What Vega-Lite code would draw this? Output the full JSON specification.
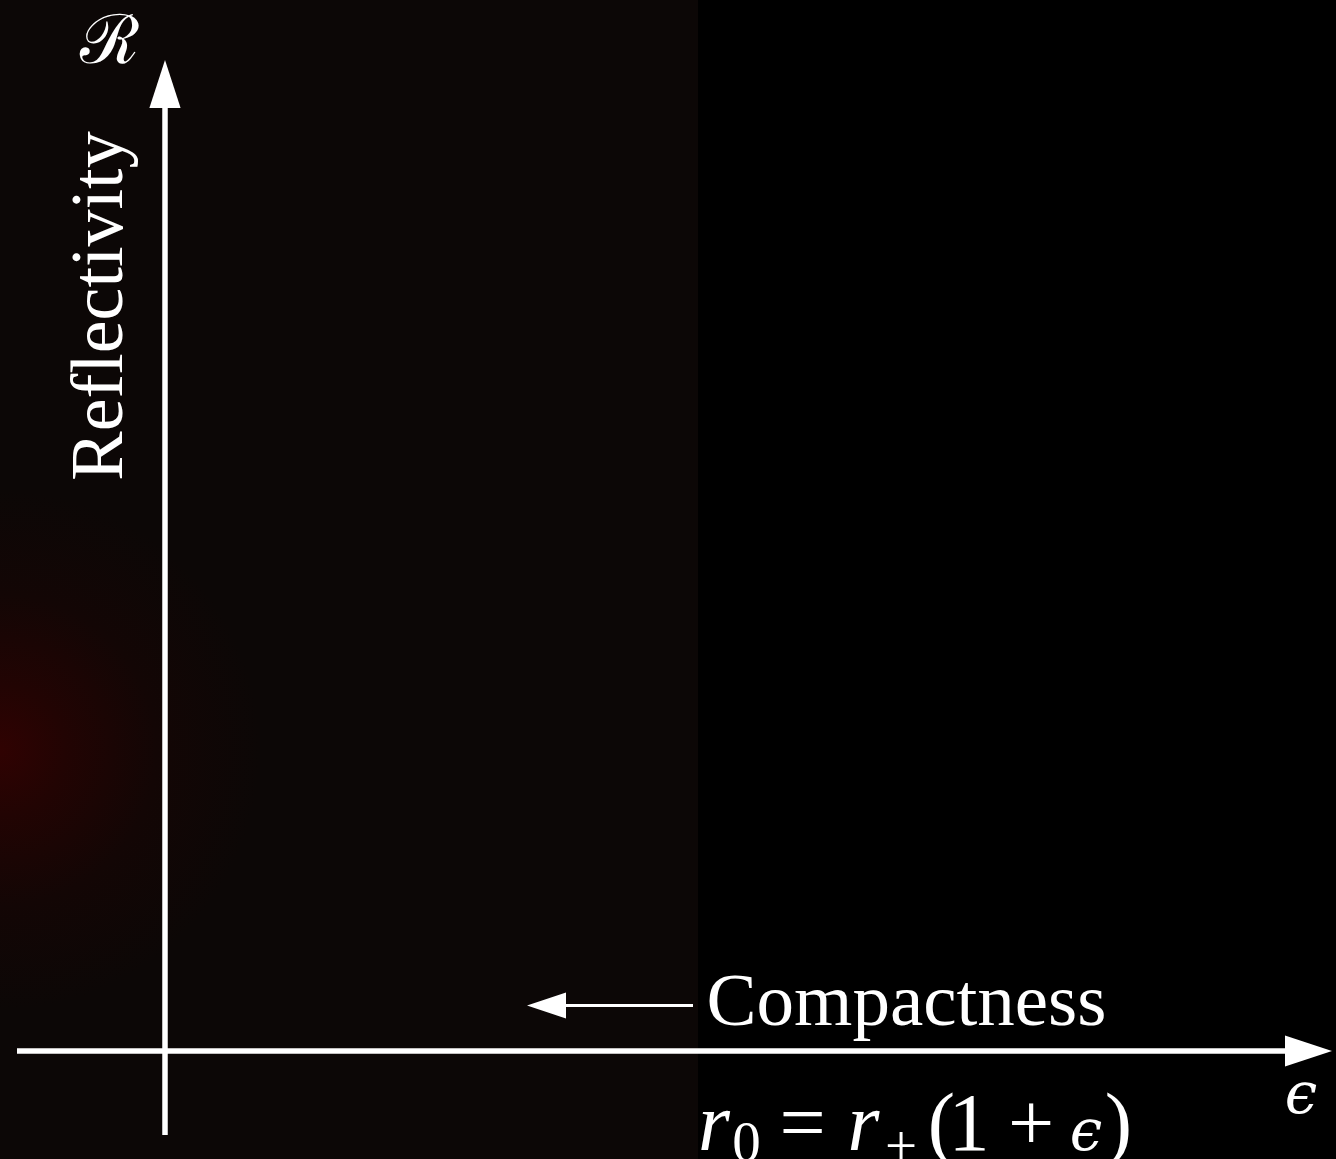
{
  "$schema": "https://vega.github.io/schema/vega-lite/v6.json",
  "width": 1336,
  "height": 1159,
  "autosize": {"type": "none"},
  "padding": 0,
  "background": "#000000",
  "config": {"view": {"stroke": null}},
  "datasets": {
    "panel": [{"x": -1.65, "x2": 5.33, "y": -1.2, "y2": 10.6}],
    "glow": [{"x": -4.25, "x2": 0.95, "y": 0.41, "y2": 5.61}],
    "axes": [
      {"x": -1.48, "x2": 11.25, "y": 0, "y2": 0},
      {"x": 0, "x2": 0, "y": -0.84, "y2": 9.55}
    ],
    "pointer": [{"x": 3.95, "x2": 5.28, "y": 0.455, "y2": 0.455}],
    "heads": [
      {"dir": "up", "x": 0, "y": 9.67},
      {"dir": "right", "x": 11.435, "y": 0},
      {"dir": "left", "x": 3.815, "y": 0.455}
    ],
    "labels": [
      {"kind": "word", "t": "Compactness", "x": 7.415, "y": 0.26},
      {"kind": "axisname", "t": "Reflectivity", "x": -0.43, "y": 7.45},
      {"kind": "script", "t": "ℛ", "x": -0.56, "y": 9.88},
      {"kind": "greek", "t": "ϵ", "x": 11.36, "y": -0.62},
      {"kind": "italic", "t": "r", "x": 5.49, "y": -0.99},
      {"kind": "sub", "t": "0", "x": 5.815, "y": -1.1},
      {"kind": "upright", "t": "=", "x": 6.375, "y": -0.99},
      {"kind": "italic", "t": "r", "x": 6.985, "y": -0.99},
      {"kind": "sub", "t": "+", "x": 7.36, "y": -1.14},
      {"kind": "upright", "t": "(", "x": 7.765, "y": -0.99},
      {"kind": "upright", "t": "1", "x": 8.04, "y": -0.99},
      {"kind": "upright", "t": "+", "x": 8.66, "y": -0.99},
      {"kind": "greek", "t": "ϵ", "x": 9.21, "y": -0.99},
      {"kind": "upright", "t": ")", "x": 9.535, "y": -0.99}
    ]
  },
  "layer": [
    {
      "data": {"name": "panel"},
      "mark": {"type": "rect", "color": "#0c0706", "opacity": 1},
      "encoding": {
        "x": {"field": "x", "type": "quantitative", "axis": null, "scale": {"domain": [-1.65, 11.71], "nice": false, "zero": false}},
        "x2": {"field": "x2"},
        "y": {"field": "y", "type": "quantitative", "axis": null, "scale": {"domain": [-1.08, 10.51], "nice": false, "zero": false}},
        "y2": {"field": "y2"}
      }
    },
    {
      "data": {"name": "glow"},
      "mark": {
        "type": "rect",
        "opacity": 1,
        "fill": {
          "gradient": "radial",
          "x1": 0.5, "y1": 0.5, "r1": 0,
          "x2": 0.5, "y2": 0.5, "r2": 0.5,
          "stops": [
            {"offset": 0, "color": "#300202"},
            {"offset": 0.25, "color": "#220403"},
            {"offset": 0.6, "color": "#130605"},
            {"offset": 1, "color": "#0c0706"}
          ]
        }
      },
      "encoding": {
        "x": {"field": "x", "type": "quantitative", "axis": null, "scale": {"domain": [-1.65, 11.71], "nice": false, "zero": false}},
        "x2": {"field": "x2"},
        "y": {"field": "y", "type": "quantitative", "axis": null, "scale": {"domain": [-1.08, 10.51], "nice": false, "zero": false}},
        "y2": {"field": "y2"}
      }
    },
    {
      "data": {"name": "axes"},
      "mark": {"type": "rule", "color": "#ffffff", "strokeWidth": 5.5},
      "encoding": {
        "x": {"field": "x", "type": "quantitative", "axis": null, "scale": {"domain": [-1.65, 11.71], "nice": false, "zero": false}},
        "x2": {"field": "x2"},
        "y": {"field": "y", "type": "quantitative", "axis": null, "scale": {"domain": [-1.08, 10.51], "nice": false, "zero": false}},
        "y2": {"field": "y2"}
      }
    },
    {
      "data": {"name": "pointer"},
      "mark": {"type": "rule", "color": "#ffffff", "strokeWidth": 3},
      "encoding": {
        "x": {"field": "x", "type": "quantitative", "axis": null, "scale": {"domain": [-1.65, 11.71], "nice": false, "zero": false}},
        "x2": {"field": "x2"},
        "y": {"field": "y", "type": "quantitative", "axis": null, "scale": {"domain": [-1.08, 10.51], "nice": false, "zero": false}},
        "y2": {"field": "y2"}
      }
    },
    {
      "data": {"name": "heads"},
      "transform": [{"filter": "datum.dir === 'up'"}],
      "mark": {"type": "point", "shape": "M0,-1L-0.65,1L0.65,1Z", "size": 2304, "filled": true, "color": "#ffffff", "opacity": 1, "strokeWidth": 0},
      "encoding": {
        "x": {"field": "x", "type": "quantitative", "axis": null, "scale": {"domain": [-1.65, 11.71], "nice": false, "zero": false}},
        "y": {"field": "y", "type": "quantitative", "axis": null, "scale": {"domain": [-1.08, 10.51], "nice": false, "zero": false}}
      }
    },
    {
      "data": {"name": "heads"},
      "transform": [{"filter": "datum.dir === 'right'"}],
      "mark": {"type": "point", "shape": "M1,0L-1,-0.66L-1,0.66Z", "size": 2209, "filled": true, "color": "#ffffff", "opacity": 1, "strokeWidth": 0},
      "encoding": {
        "x": {"field": "x", "type": "quantitative", "axis": null, "scale": {"domain": [-1.65, 11.71], "nice": false, "zero": false}},
        "y": {"field": "y", "type": "quantitative", "axis": null, "scale": {"domain": [-1.08, 10.51], "nice": false, "zero": false}}
      }
    },
    {
      "data": {"name": "heads"},
      "transform": [{"filter": "datum.dir === 'left'"}],
      "mark": {"type": "point", "shape": "M-1,0L1,-0.667L1,0.667Z", "size": 1521, "filled": true, "color": "#ffffff", "opacity": 1, "strokeWidth": 0},
      "encoding": {
        "x": {"field": "x", "type": "quantitative", "axis": null, "scale": {"domain": [-1.65, 11.71], "nice": false, "zero": false}},
        "y": {"field": "y", "type": "quantitative", "axis": null, "scale": {"domain": [-1.08, 10.51], "nice": false, "zero": false}}
      }
    },
    {
      "data": {"name": "labels"},
      "transform": [{"filter": "datum.kind === 'word'"}],
      "mark": {"type": "text", "font": "Liberation Serif", "fontSize": 75, "color": "#ffffff", "align": "center", "baseline": "alphabetic"},
      "encoding": {
        "x": {"field": "x", "type": "quantitative", "axis": null, "scale": {"domain": [-1.65, 11.71], "nice": false, "zero": false}},
        "y": {"field": "y", "type": "quantitative", "axis": null, "scale": {"domain": [-1.08, 10.51], "nice": false, "zero": false}},
        "text": {"field": "t"}
      }
    },
    {
      "data": {"name": "labels"},
      "transform": [{"filter": "datum.kind === 'axisname'"}],
      "mark": {"type": "text", "font": "Liberation Serif", "fontSize": 74, "color": "#ffffff", "align": "center", "baseline": "alphabetic", "angle": 270},
      "encoding": {
        "x": {"field": "x", "type": "quantitative", "axis": null, "scale": {"domain": [-1.65, 11.71], "nice": false, "zero": false}},
        "y": {"field": "y", "type": "quantitative", "axis": null, "scale": {"domain": [-1.08, 10.51], "nice": false, "zero": false}},
        "text": {"field": "t"}
      }
    },
    {
      "data": {"name": "labels"},
      "transform": [{"filter": "datum.kind === 'script'"}],
      "mark": {"type": "text", "font": "DejaVu Serif", "fontSize": 68, "color": "#ffffff", "align": "center", "baseline": "alphabetic"},
      "encoding": {
        "x": {"field": "x", "type": "quantitative", "axis": null, "scale": {"domain": [-1.65, 11.71], "nice": false, "zero": false}},
        "y": {"field": "y", "type": "quantitative", "axis": null, "scale": {"domain": [-1.08, 10.51], "nice": false, "zero": false}},
        "text": {"field": "t"}
      }
    },
    {
      "data": {"name": "labels"},
      "transform": [{"filter": "datum.kind === 'greek'"}],
      "mark": {"type": "text", "font": "DejaVu Serif", "fontStyle": "italic", "fontSize": 58, "color": "#ffffff", "align": "center", "baseline": "alphabetic"},
      "encoding": {
        "x": {"field": "x", "type": "quantitative", "axis": null, "scale": {"domain": [-1.65, 11.71], "nice": false, "zero": false}},
        "y": {"field": "y", "type": "quantitative", "axis": null, "scale": {"domain": [-1.08, 10.51], "nice": false, "zero": false}},
        "text": {"field": "t"}
      }
    },
    {
      "data": {"name": "labels"},
      "transform": [{"filter": "datum.kind === 'italic'"}],
      "mark": {"type": "text", "font": "Liberation Serif", "fontStyle": "italic", "fontSize": 82, "color": "#ffffff", "align": "center", "baseline": "alphabetic"},
      "encoding": {
        "x": {"field": "x", "type": "quantitative", "axis": null, "scale": {"domain": [-1.65, 11.71], "nice": false, "zero": false}},
        "y": {"field": "y", "type": "quantitative", "axis": null, "scale": {"domain": [-1.08, 10.51], "nice": false, "zero": false}},
        "text": {"field": "t"}
      }
    },
    {
      "data": {"name": "labels"},
      "transform": [{"filter": "datum.kind === 'upright'"}],
      "mark": {"type": "text", "font": "Liberation Serif", "fontSize": 82, "color": "#ffffff", "align": "center", "baseline": "alphabetic"},
      "encoding": {
        "x": {"field": "x", "type": "quantitative", "axis": null, "scale": {"domain": [-1.65, 11.71], "nice": false, "zero": false}},
        "y": {"field": "y", "type": "quantitative", "axis": null, "scale": {"domain": [-1.08, 10.51], "nice": false, "zero": false}},
        "text": {"field": "t"}
      }
    },
    {
      "data": {"name": "labels"},
      "transform": [{"filter": "datum.kind === 'sub'"}],
      "mark": {"type": "text", "font": "Liberation Serif", "fontSize": 57, "color": "#ffffff", "align": "center", "baseline": "alphabetic"},
      "encoding": {
        "x": {"field": "x", "type": "quantitative", "axis": null, "scale": {"domain": [-1.65, 11.71], "nice": false, "zero": false}},
        "y": {"field": "y", "type": "quantitative", "axis": null, "scale": {"domain": [-1.08, 10.51], "nice": false, "zero": false}},
        "text": {"field": "t"}
      }
    }
  ]
}
